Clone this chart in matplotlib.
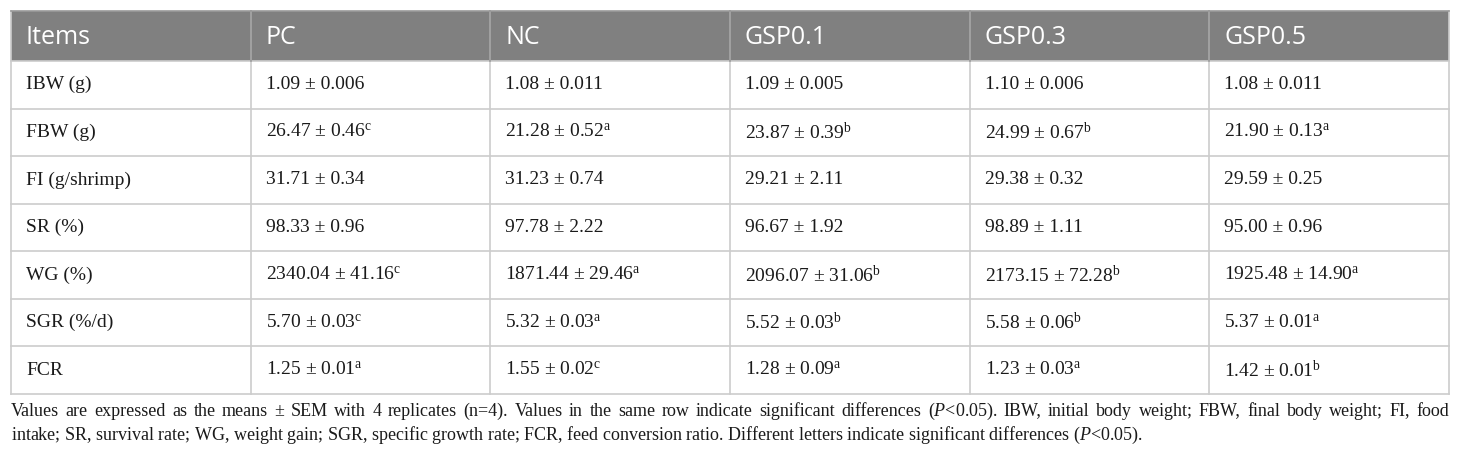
import matplotlib.pyplot as plt
import matplotlib as mpl

mpl.rcParams["mathtext.fontset"] = "custom"
mpl.rcParams["mathtext.rm"] = "Liberation Serif"
mpl.rcParams["mathtext.it"] = "Liberation Serif:italic"

# ---------------------------------------------------------------------------
# Table data
# ---------------------------------------------------------------------------
columns = ["Items", "PC", "NC", "GSP0.1", "GSP0.3", "GSP0.5"]
items = ["IBW (g)", "FBW (g)", "FI (g/shrimp)", "SR (%)", "WG (%)", "SGR (%/d)", "FCR"]

means = [
    ["1.09", "1.08", "1.09", "1.10", "1.08"],
    ["26.47", "21.28", "23.87", "24.99", "21.90"],
    ["31.71", "31.23", "29.21", "29.38", "29.59"],
    ["98.33", "97.78", "96.67", "98.89", "95.00"],
    ["2340.04", "1871.44", "2096.07", "2173.15", "1925.48"],
    ["5.70", "5.32", "5.52", "5.58", "5.37"],
    ["1.25", "1.55", "1.28", "1.23", "1.42"],
]
sems = [
    ["0.006", "0.011", "0.005", "0.006", "0.011"],
    ["0.46", "0.52", "0.39", "0.67", "0.13"],
    ["0.34", "0.74", "2.11", "0.32", "0.25"],
    ["0.96", "2.22", "1.92", "1.11", "0.96"],
    ["41.16", "29.46", "31.06", "72.28", "14.90"],
    ["0.03", "0.03", "0.03", "0.06", "0.01"],
    ["0.01", "0.02", "0.09", "0.03", "0.01"],
]
letters = [
    ["", "", "", "", ""],
    ["c", "a", "b", "b", "a"],
    ["", "", "", "", ""],
    ["", "", "", "", ""],
    ["c", "a", "b", "b", "a"],
    ["c", "a", "b", "b", "a"],
    ["a", "c", "a", "a", "b"],
]

caption_1 = ("Values are expressed as the means ± SEM with 4 replicates (n=4). Values in the same row "
             "indicate significant differences ($\\it{P}$<0.05). IBW, initial body weight; FBW, final "
             "body weight; FI, food")
caption_2 = ("intake; SR, survival rate; WG, weight gain; SGR, specific growth rate; FCR, feed "
             "conversion ratio. Different letters indicate significant differences ($\\it{P}$<0.05).")

# ---------------------------------------------------------------------------
# Layout (pixel coordinates)
# ---------------------------------------------------------------------------
W, H = 1460, 459
left, right = 11, 1449
top, head_bot, bottom = 11, 61, 394
n_rows = len(items)
row_h = (bottom - head_bot) / n_rows
col_w = (right - left) / len(columns)
pad = 15

HEAD_BG = "#808080"
GRID = "#cccccc"
TXT = "#1a1a1a"
CAP_SIZE = 13.0

fig = plt.figure(figsize=(W / 100, H / 100), dpi=100)
ax = fig.add_axes([0, 0, 1, 1])
ax.set_xlim(0, W)
ax.set_ylim(H, 0)
ax.axis("off")

# header band
ax.add_patch(plt.Rectangle((left, top), right - left, head_bot - top,
                           facecolor=HEAD_BG, edgecolor="none", zorder=1))
for j, name in enumerate(columns):
    ax.text(left + j * col_w + pad, (top + head_bot) / 2 + 1, name,
            fontfamily="Open Sans", fontsize=18, color="white",
            ha="left", va="center", zorder=3)

# grid lines
for i in range(n_rows + 1):
    y = head_bot + i * row_h
    ax.plot([left, right], [y, y], color=GRID, lw=1.2, zorder=2)
for j in range(len(columns) + 1):
    x = left + j * col_w
    ax.plot([x, x], [top, bottom], color=GRID, lw=1.2, zorder=2)
for j in range(1, len(columns)):
    x = left + j * col_w
    ax.plot([x, x], [top, head_bot], color="#9a9a9a", lw=1.2, zorder=2)
ax.plot([left, right], [top, top], color="#9a9a9a", lw=1.2, zorder=2)

# body cells
for i, item in enumerate(items):
    yc = head_bot + (i + 0.5) * row_h
    ax.text(left + pad, yc, item, fontfamily="Liberation Serif", fontsize=14,
            color=TXT, ha="left", va="center", zorder=3)
    for j in range(5):
        s = f"{means[i][j]} ± {sems[i][j]}"
        if letters[i][j]:
            s += "$^{\\mathrm{" + letters[i][j] + "}}$"
        ax.text(left + (j + 1) * col_w + pad, yc, s, fontfamily="Liberation Serif",
                fontsize=14, color=TXT, ha="left", va="center", zorder=3)

# caption: first line justified to the table width
renderer = fig.canvas.get_renderer()
words = caption_1.split(" ")
arts = [ax.text(0, 411, w, fontfamily="Liberation Serif", fontsize=CAP_SIZE,
                color=TXT, ha="left", va="center") for w in words]
widths = [a.get_window_extent(renderer).width for a in arts]
gap = (right - left - sum(widths)) / (len(words) - 1)
x = left
for a, w in zip(arts, widths):
    a.set_x(x)
    x += w + gap

ax.text(left, 435, caption_2, fontfamily="Liberation Serif", fontsize=CAP_SIZE,
        color=TXT, ha="left", va="center")

fig.savefig("out.png", dpi=100)
